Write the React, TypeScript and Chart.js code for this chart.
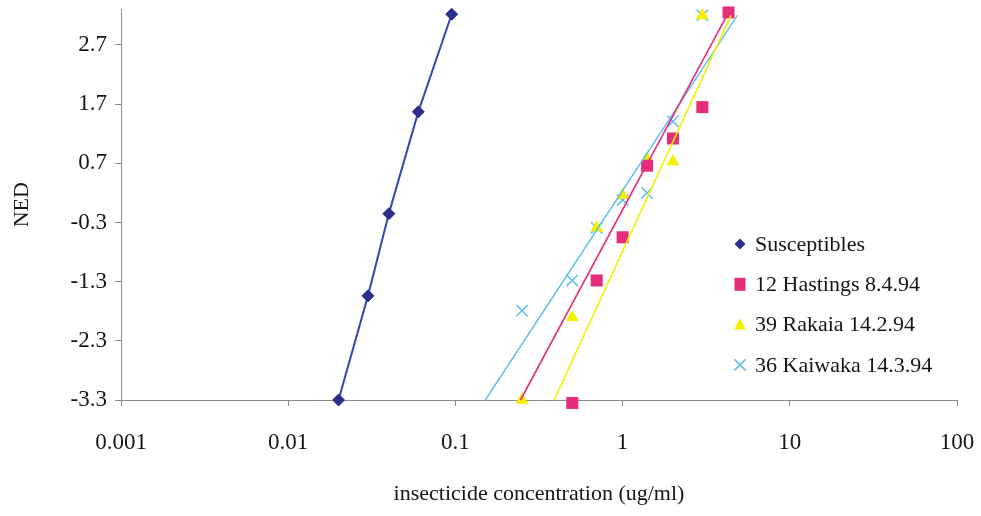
import React, { useEffect, useRef } from "react";
import { Chart, registerables } from "chart.js";

Chart.register(...registerables);

// ---- Data ----
const xTicks = [0.001, 0.01, 0.1, 1, 10, 100];
const xTickLabels = ["0.001", "0.01", "0.1", "1", "10", "100"];
const yTicks = [-3.3, -2.3, -1.3, -0.3, 0.7, 1.7, 2.7];
const yTickLabels = ["-3.3", "-2.3", "-1.3", "-0.3", "0.7", "1.7", "2.7"];

const seriesNames = [
  "Susceptibles",
  "12 Hastings 8.4.94",
  "39 Rakaia 14.2.94",
  "36 Kaiwaka 14.3.94",
];

const susConc = [0.02, 0.03, 0.04, 0.06, 0.095];
const susNed = [-3.3, -1.54, -0.15, 1.57, 3.22];

const hastConc = [0.5, 0.7, 1, 1.4, 2, 3, 4.3];
const hastNed = [-3.35, -1.28, -0.55, 0.66, 1.12, 1.65, 3.25];

const rakConc = [0.25, 0.5, 0.7, 1, 1.4, 2, 3];
const rakNed = [-3.3, -1.9, -0.39, 0.16, 0.78, 0.73, 3.2];

const kaiConc = [0.25, 0.5, 0.7, 1, 1.4, 2, 3];
const kaiNed = [-1.79, -1.28, -0.39, 0.08, 0.2, 1.41, 3.2];

// fitted trend lines (end points)
const hastTrendConc = [0.245, 4.3];
const hastTrendNed = [-3.3, 3.25];
const rakTrendConc = [0.39, 4.45];
const rakTrendNed = [-3.3, 3.2];
const kaiTrendConc = [0.151, 4.86];
const kaiTrendNed = [-3.3, 3.2];

// ---- Styles ----
const NAVY = "#2B2F8C";
const NAVY_LINE = "#3845B2";
const MAGENTA = "#E62D7C";
const YELLOW = "#F3EF00";
const LIGHTBLUE = "#5FBDEE";
const AXIS = "#8a8a8a";
const TEXT = "#151515";
const FONT = "'Liberation Serif', 'Times New Roman', serif";

const pts = (xs: number[], ys: number[]) => xs.map((x, i) => ({ x, y: ys[i] }));

type Marker = "diamond" | "square" | "triangle" | "cross";
const legendItems: { name: string; marker: Marker; color: string }[] = [
  { name: seriesNames[0], marker: "diamond", color: NAVY },
  { name: seriesNames[1], marker: "square", color: MAGENTA },
  { name: seriesNames[2], marker: "triangle", color: YELLOW },
  { name: seriesNames[3], marker: "cross", color: LIGHTBLUE },
];

function drawMarker(ctx: CanvasRenderingContext2D, m: Marker, x: number, y: number, color: string) {
  ctx.save();
  ctx.fillStyle = color;
  ctx.strokeStyle = color;
  ctx.beginPath();
  if (m === "diamond") {
    const r = 5.5;
    ctx.moveTo(x, y - r);
    ctx.lineTo(x + r, y);
    ctx.lineTo(x, y + r);
    ctx.lineTo(x - r, y);
    ctx.closePath();
    ctx.fill();
  } else if (m === "square") {
    ctx.rect(x - 5.5, y - 6.5, 11, 13);
    ctx.fill();
  } else if (m === "triangle") {
    ctx.moveTo(x, y - 6);
    ctx.lineTo(x + 6, y + 5);
    ctx.lineTo(x - 6, y + 5);
    ctx.closePath();
    ctx.fill();
  } else {
    const r = 5.5;
    ctx.lineWidth = 1.5;
    ctx.moveTo(x - r, y - r);
    ctx.lineTo(x + r, y + r);
    ctx.moveTo(x + r, y - r);
    ctx.lineTo(x - r, y + r);
    ctx.stroke();
  }
  ctx.restore();
}

const legendPlugin = {
  id: "customLegend",
  afterDatasetsDraw(chart: any) {
    const ctx: CanvasRenderingContext2D = chart.ctx;
    const mx = 740;
    const tx = 755;
    const y0 = 244;
    const dy = 40.3;
    ctx.save();
    ctx.font = `22px ${FONT}`;
    ctx.fillStyle = TEXT;
    ctx.textBaseline = "middle";
    ctx.textAlign = "left";
    legendItems.forEach((it, i) => {
      const y = y0 + i * dy;
      drawMarker(ctx, it.marker, mx, y, it.color);
      ctx.fillStyle = TEXT;
      ctx.fillText(it.name, tx, y + 1);
    });
    ctx.restore();
  },
};

export default function App() {
  const ref = useRef<HTMLCanvasElement | null>(null);

  useEffect(() => {
    document.body.style.margin = "0";
    if (!ref.current) return;
    const chart = new Chart(ref.current, {
      type: "scatter",
      data: {
        datasets: [
          {
            label: seriesNames[0],
            data: pts(susConc, susNed),
            showLine: true,
            borderColor: NAVY_LINE,
            borderWidth: 2,
            backgroundColor: NAVY,
            pointBackgroundColor: NAVY,
            pointBorderColor: NAVY,
            pointStyle: "rectRot",
            pointRadius: 6,
            pointBorderWidth: 1,
            clip: false as any,
          },
          {
            label: "hast trend",
            data: pts(hastTrendConc, hastTrendNed),
            showLine: true,
            borderColor: MAGENTA,
            borderWidth: 1.6,
            pointRadius: 0,
            clip: false as any,
          },
          {
            label: "rak trend",
            data: pts(rakTrendConc, rakTrendNed),
            showLine: true,
            borderColor: YELLOW,
            borderWidth: 1.6,
            pointRadius: 0,
            clip: false as any,
          },
          {
            label: "kai trend",
            data: pts(kaiTrendConc, kaiTrendNed),
            showLine: true,
            borderColor: LIGHTBLUE,
            borderWidth: 1.4,
            pointRadius: 0,
            clip: false as any,
          },
          {
            label: seriesNames[1],
            data: pts(hastConc, hastNed),
            showLine: false,
            backgroundColor: MAGENTA,
            pointBackgroundColor: MAGENTA,
            pointBorderColor: MAGENTA,
            pointStyle: "rect",
            pointRadius: 8.5,
            pointBorderWidth: 0,
            clip: false as any,
          },
          {
            label: seriesNames[2],
            data: pts(rakConc, rakNed),
            showLine: false,
            backgroundColor: YELLOW,
            pointBackgroundColor: YELLOW,
            pointBorderColor: YELLOW,
            pointStyle: "triangle",
            pointRadius: 7.5,
            pointBorderWidth: 0,
            clip: false as any,
          },
          {
            label: seriesNames[3],
            data: pts(kaiConc, kaiNed),
            showLine: false,
            backgroundColor: LIGHTBLUE,
            pointBackgroundColor: LIGHTBLUE,
            pointBorderColor: LIGHTBLUE,
            pointStyle: "crossRot",
            pointRadius: 8,
            pointBorderWidth: 1.5,
            clip: false as any,
          },
        ],
      },
      options: {
        animation: false,
        responsive: true,
        maintainAspectRatio: false,
        layout: { padding: { top: 8, right: 24, left: 0, bottom: 0 } },
        plugins: {
          legend: { display: false },
          tooltip: { enabled: false },
        },
        scales: {
          x: {
            type: "logarithmic",
            position: "bottom",
            min: 0.001,
            max: 100,
            afterBuildTicks: (s: any) => {
              s.ticks = xTicks.map((v) => ({ value: v }));
            },
            afterFit: (s: any) => {
              s.height = 116;
              s.paddingLeft = 0;
              s.paddingRight = 0;
            },
            ticks: {
              callback: (_v: any, i: number) => xTickLabels[i],
              autoSkip: false,
              maxRotation: 0,
              padding: 23,
              color: TEXT,
              font: { family: FONT, size: 23 },
            },
            grid: {
              display: true,
              drawOnChartArea: false,
              drawTicks: true,
              tickLength: 6,
              color: AXIS,
            },
            border: { display: true, color: AXIS, width: 1 },
            title: {
              display: true,
              text: "insecticide concentration (ug/ml)",
              color: TEXT,
              font: { family: FONT, size: 22 },
              padding: { top: 0, bottom: 9 },
            },
          },
          y: {
            type: "linear",
            min: -3.3,
            max: 3.3,
            afterBuildTicks: (s: any) => {
              s.ticks = yTicks.map((v) => ({ value: v }));
            },
            afterFit: (s: any) => {
              s.width = 121;
              s.paddingTop = 0;
              s.paddingBottom = 0;
            },
            ticks: {
              callback: (_v: any, i: number) => yTickLabels[i],
              padding: 8,
              color: TEXT,
              font: { family: FONT, size: 23 },
            },
            grid: {
              display: true,
              drawOnChartArea: false,
              drawTicks: true,
              tickLength: 6,
              color: AXIS,
            },
            border: { display: true, color: AXIS, width: 1 },
            title: {
              display: true,
              text: "NED",
              color: TEXT,
              font: { family: FONT, size: 22 },
              padding: { top: 9, bottom: 0 },
            },
          },
        },
      },
      plugins: [legendPlugin],
    });
    return () => chart.destroy();
  }, []);

  return (
    <div style={{ position: "relative", width: 981, height: 516, background: "#fff" }}>
      <canvas ref={ref} />
    </div>
  );
}
